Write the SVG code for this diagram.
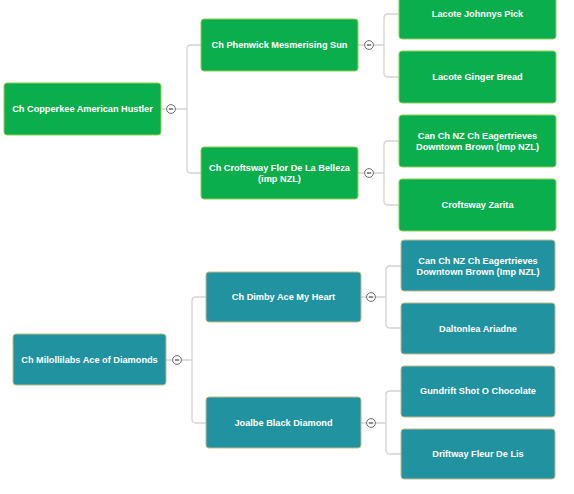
<svg xmlns="http://www.w3.org/2000/svg" width="574" height="494" viewBox="0 0 574 494">
<style>
.g{fill:#0aae4d;stroke:#93cd55;stroke-width:1}
.t{fill:#21929f;stroke:#c6b98a;stroke-width:1}
.lbl{font-family:"Liberation Sans",Arial,sans-serif;font-weight:bold;font-size:9.2px;fill:#ffffff;text-anchor:middle}
.c{fill:none;stroke:#d3d3d3;stroke-width:1.3}
.tog circle{fill:#ffffff;stroke:#6b6b6b;stroke-width:1}
.tog line{stroke:#555555;stroke-width:1.3}
</style>
<defs>
<g id="tg" class="tog"><circle r="4.4"/><line x1="-2.2" y1="0" x2="2.2" y2="0"/></g>
</defs>
<rect width="574" height="494" fill="#ffffff"/>
<g id="connectors">
<path class="c" d="M161 109H166.6M175.4 109H187M201 45H191Q187 45 187 49V169Q187 173 191 173H201"/>
<path class="c" d="M358 45H364.6M373.4 45H384M399 14H388Q384 14 384 18V73Q384 77 388 77H399"/>
<path class="c" d="M358 173H364.6M373.4 173H384M399 141H388Q384 141 384 145V201Q384 205 388 205H399"/>
<path class="c" d="M166 360H172.6M181.4 360H192M206 297H196Q192 297 192 301V419Q192 423 196 423H206"/>
<path class="c" d="M361 297H366.6M375.4 297H386M401 266H390Q386 266 386 270V324Q386 328 390 328H401"/>
<path class="c" d="M361 423H366.6M375.4 423H386M401 391H390Q386 391 386 395V450Q386 454 390 454H401"/>
<use href="#tg" x="171" y="109"/>
<use href="#tg" x="369" y="45"/>
<use href="#tg" x="369" y="173"/>
<use href="#tg" x="177" y="360"/>
<use href="#tg" x="371" y="297"/>
<use href="#tg" x="371" y="423"/>
</g>
<g id="n1"><rect class="g" x="4" y="83" width="157" height="52" rx="3"/><text class="lbl" x="82.5" y="112.3">Ch Copperkee American Hustler</text></g>
<g id="n2"><rect class="g" x="201" y="19" width="157" height="52" rx="3"/><text class="lbl" x="279.5" y="48.3">Ch Phenwick Mesmerising Sun</text></g>
<g id="n3"><rect class="g" x="201" y="147" width="157" height="52" rx="3"/><text class="lbl" x="279.5" y="170.5">Ch Croftsway Flor De La Belleza</text><text class="lbl" x="279.5" y="182">(imp NZL)</text></g>
<g id="n4"><rect class="g" x="399" y="-12" width="157" height="51" rx="3"/><text class="lbl" x="477.5" y="17">Lacote Johnnys Pick</text></g>
<g id="n5"><rect class="g" x="399" y="51" width="157" height="52" rx="3"/><text class="lbl" x="477.5" y="80.3">Lacote Ginger Bread</text></g>
<g id="n6"><rect class="g" x="399" y="115" width="157" height="52" rx="3"/><text class="lbl" x="477.5" y="138.5">Can Ch NZ Ch Eagertrieves</text><text class="lbl" x="477.5" y="150">Downtown Brown (Imp NZL)</text></g>
<g id="n7"><rect class="g" x="399" y="179" width="157" height="52" rx="3"/><text class="lbl" x="477.5" y="208.3">Croftsway Zarita</text></g>
<g id="n8"><rect class="t" x="13" y="334" width="153" height="51" rx="3"/><text class="lbl" x="89.5" y="362.8">Ch Milollilabs Ace of Diamonds</text></g>
<g id="n9"><rect class="t" x="206" y="272" width="155" height="50" rx="3"/><text class="lbl" x="283.5" y="300.3">Ch Dimby Ace My Heart</text></g>
<g id="n10"><rect class="t" x="206" y="397" width="155" height="51" rx="3"/><text class="lbl" x="283.5" y="425.8">Joalbe Black Diamond</text></g>
<g id="n11"><rect class="t" x="401" y="240" width="154" height="51" rx="3"/><text class="lbl" x="478" y="263.5">Can Ch NZ Ch Eagertrieves</text><text class="lbl" x="478" y="275">Downtown Brown (Imp NZL)</text></g>
<g id="n12"><rect class="t" x="401" y="303" width="154" height="51" rx="3"/><text class="lbl" x="478" y="331.8">Daltonlea Ariadne</text></g>
<g id="n13"><rect class="t" x="401" y="366" width="154" height="51" rx="3"/><text class="lbl" x="478" y="394.3">Gundrift Shot O Chocolate</text></g>
<g id="n14"><rect class="t" x="401" y="429" width="154" height="50" rx="3"/><text class="lbl" x="478" y="457.3">Driftway Fleur De Lis</text></g>
</svg>
